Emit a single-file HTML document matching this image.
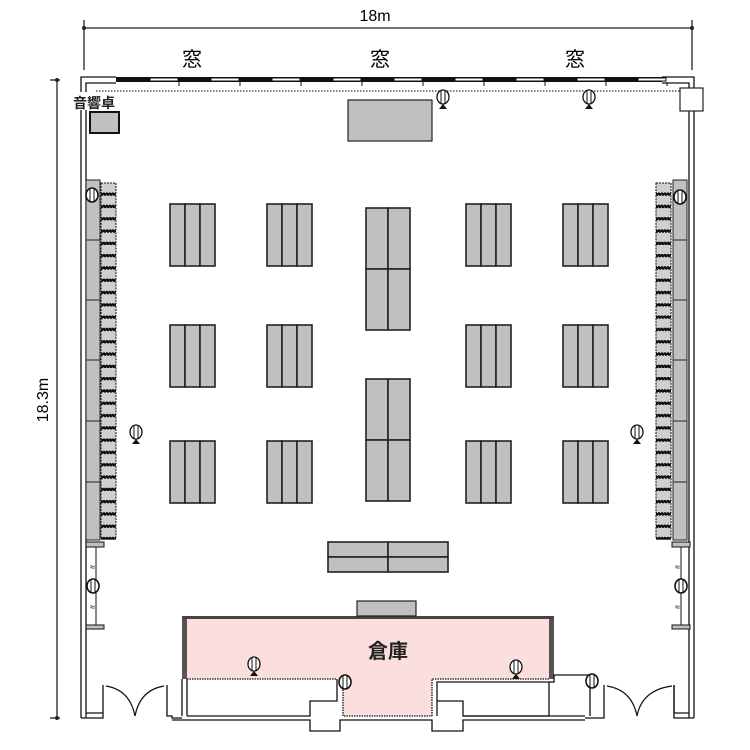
<!DOCTYPE html>
<html><head><meta charset="utf-8"><style>
html,body{margin:0;padding:0;background:#fff;width:750px;height:750px;overflow:hidden}
svg{display:block}
text{font-family:"Liberation Sans","Noto Sans CJK JP",sans-serif}
</style></head><body>
<svg id="s" width="750" height="750" viewBox="0 0 750 750" xmlns="http://www.w3.org/2000/svg">
<g stroke="#222" stroke-width="1.3" fill="none">
<line x1="84" y1="28" x2="692" y2="28"/>
<line x1="84" y1="20" x2="84" y2="70"/>
<line x1="692" y1="20" x2="692" y2="70"/>
<line x1="57" y1="80" x2="57" y2="718"/>
<line x1="50" y1="80" x2="60" y2="80"/>
<line x1="50" y1="718" x2="60" y2="718"/>
</g>
<circle cx="84" cy="28" r="2" fill="#222"/><circle cx="692" cy="28" r="2" fill="#222"/>
<circle cx="57" cy="80" r="2" fill="#222"/><circle cx="57" cy="718" r="2" fill="#222"/>
<text x="375" y="21" font-size="16" text-anchor="middle">18m</text>
<text x="0" y="0" font-size="16" text-anchor="middle" transform="translate(48,400) rotate(-90)">18.3m</text>
<text x="192" y="66" font-size="20" text-anchor="middle">窓</text>
<text x="380" y="66" font-size="20" text-anchor="middle">窓</text>
<text x="575" y="66" font-size="20" text-anchor="middle">窓</text>
<g stroke="#111" stroke-width="1.3" fill="none">
<polyline points="81,718 81,77 116,77"/>
<polyline points="86,718 86,83 116,83"/>
<polyline points="694,718 694,77 662,77"/>
<polyline points="689,718 689,83 662,83"/>
<polyline points="81,718 103,718 103,685"/>
<polyline points="86,713 103,713"/>
<polyline points="167,685 167,716 172,716 172,718 182,718"/>
<polyline points="604,685 604,718 585,718"/>
<polyline points="674,685 674,713 689,713"/>
<polyline points="674,685 674,718 694,718"/>
</g>
<rect x="116" y="77" width="546" height="5" fill="#111"/>
<g id="win" fill="#fff" stroke="#111" stroke-width="1"></g>
<line x1="96" y1="91" x2="680" y2="91" stroke="#333" stroke-width="1.2" stroke-dasharray="1.5,1.5"/>
<g stroke="#111" stroke-width="1.2" fill="none">
<path d="M106,686 Q130,690 135,716 Q140,690 164,686"/>
<path d="M607,686 Q632,690 637,716 Q642,690 672,686"/>
</g>
<rect x="72" y="92" width="50" height="18" fill="#fff"/>
<text x="73" y="108" font-size="14" font-weight="bold" fill="#222">音響卓</text>
<rect x="90" y="112" width="29" height="21" fill="#c0c0c0" stroke="#111" stroke-width="2"/>
<rect x="348" y="100" width="84" height="41" fill="#c0c0c0" stroke="#222" stroke-width="1.2"/>
<rect x="680" y="88" width="23" height="23" fill="#fff" stroke="#222" stroke-width="1.2"/>
<g id="chairs"></g>
<g id="tables" stroke="#222" stroke-width="1.6" fill="#c0c0c0"></g>
<path d="M182,617 H554 V679 H432 V716 H343 V679 H182 Z" fill="#fbdede"/>
<rect x="182" y="617" width="5" height="62" fill="#555"/>
<rect x="549" y="617" width="5" height="62" fill="#555"/>
<rect x="182" y="616" width="372" height="3" fill="#444"/>
<g stroke="#111" stroke-width="1.3" fill="none">
<line x1="182" y1="679" x2="182" y2="716"/>
<line x1="187" y1="679" x2="187" y2="716"/>
<line x1="187" y1="679" x2="337" y2="679" stroke-dasharray="1.5,1"/>
<polyline points="187,716 310,716 310,701 337,701 337,679"/>
<polyline points="172,720 310,720 310,731 340,731 340,720 432,720 432,731 463,731 463,720 585,720"/>
<polyline points="343,687 343,716 432,716" stroke-dasharray="1.5,1"/>
<polyline points="432,716 432,679 549,679" stroke-dasharray="1.5,1"/>
<polyline points="437,716 437,682 554,682 554,679"/>
<polyline points="437,701 463,701 463,716 549,716 549,682"/>
<polyline points="554,679 554,675 590,675 590,716"/>
<line x1="463" y1="716" x2="585" y2="716"/>
</g>
<rect x="357" y="601" width="59" height="15" fill="#c0c0c0" stroke="#222" stroke-width="1.2"/>
<text x="388" y="658" font-size="20" font-weight="bold" text-anchor="middle" fill="#222">倉庫</text>
<g stroke="#111" stroke-width="1" fill="#c0c0c0">
<rect x="86" y="542" width="18" height="5"/><rect x="86" y="625" width="18" height="4"/>
<rect x="672" y="542" width="18" height="5"/><rect x="672" y="625" width="18" height="4"/>
</g>
<g stroke="#111" stroke-width="1">
<line x1="96" y1="547" x2="96" y2="625"/><line x1="681" y1="547" x2="681" y2="625"/>
</g>
<text x="90" y="570" font-size="9">≈</text><text x="90" y="610" font-size="9">≈</text>
<text x="675" y="570" font-size="9">≈</text><text x="675" y="610" font-size="9">≈</text>
<g id="lamps"></g>
</svg>
<script>
var NS="http://www.w3.org/2000/svg";
function el(p,t,a){var e=document.createElementNS(NS,t);for(var k in a)e.setAttribute(k,a[k]);p.appendChild(e);return e;}
var w=document.getElementById('win');
for(var x=150;x<662;x+=61){el(w,'rect',{x:x,y:78,width:28,height:3});el(w,'line',{x1:x+29,y1:82,x2:x+29,y2:86});}
var c=document.getElementById('chairs');
function side(gx,cx){
 el(c,'rect',{x:gx,y:180,width:14,height:360,fill:'#c0c0c0',stroke:'#222','stroke-width':1});
 [240,300,360,421,482].forEach(function(y){el(c,'line',{x1:gx,y1:y,x2:gx+14,y2:y,stroke:'#222'});});
 for(var y=183;y<535;y+=12.3){el(c,'rect',{x:cx,y:y,width:15,height:10,fill:'#cfcfcf',stroke:'#111','stroke-width':1,'stroke-dasharray':'2,1'});
  el(c,'rect',{x:cx,y:y+10,width:15,height:2.3,fill:'#111'});}
}
side(86,101);side(673,656);
var t=document.getElementById('tables');
function tab(x,y,cols,rows,cw,rh){for(var i=0;i<cols;i++)for(var j=0;j<rows;j++)el(t,'rect',{x:x+i*cw,y:y+j*rh,width:cw,height:rh});}
[170,267,466,563].forEach(function(x){[204,325,441].forEach(function(y){tab(x,y,3,1,15,62);});});
tab(366,208,2,2,22,61);tab(366,379,2,2,22,61);
tab(328,542,2,2,60,15);
var L=document.getElementById('lamps');
function lamp(x,y){el(L,'ellipse',{cx:x,cy:y,rx:6,ry:7,fill:'#fff',stroke:'#111','stroke-width':1.3});
 el(L,'line',{x1:x-2,y1:y-7,x2:x-2,y2:y+7,stroke:'#111'});el(L,'line',{x1:x+2,y1:y-7,x2:x+2,y2:y+7,stroke:'#111'});
 el(L,'path',{d:'M'+(x-4)+','+(y+12)+' L'+x+','+(y+7)+' L'+(x+4)+','+(y+12)+'Z',fill:'#111'});}
lamp(443,97);lamp(589,97);lamp(136,432);lamp(637,432);lamp(254,664);lamp(516,667);
function lamp2(x,y){el(L,'ellipse',{cx:x,cy:y,rx:6,ry:7,fill:'#fff',stroke:'#111','stroke-width':1.6});
 el(L,'line',{x1:x-2,y1:y-7,x2:x-2,y2:y+7,stroke:'#111'});el(L,'line',{x1:x+2,y1:y-7,x2:x+2,y2:y+7,stroke:'#111'});}
lamp2(345,682);lamp2(592,681);lamp2(92,195);lamp2(680,197);lamp2(93,586);lamp2(681,586);
</script>
</body></html>
